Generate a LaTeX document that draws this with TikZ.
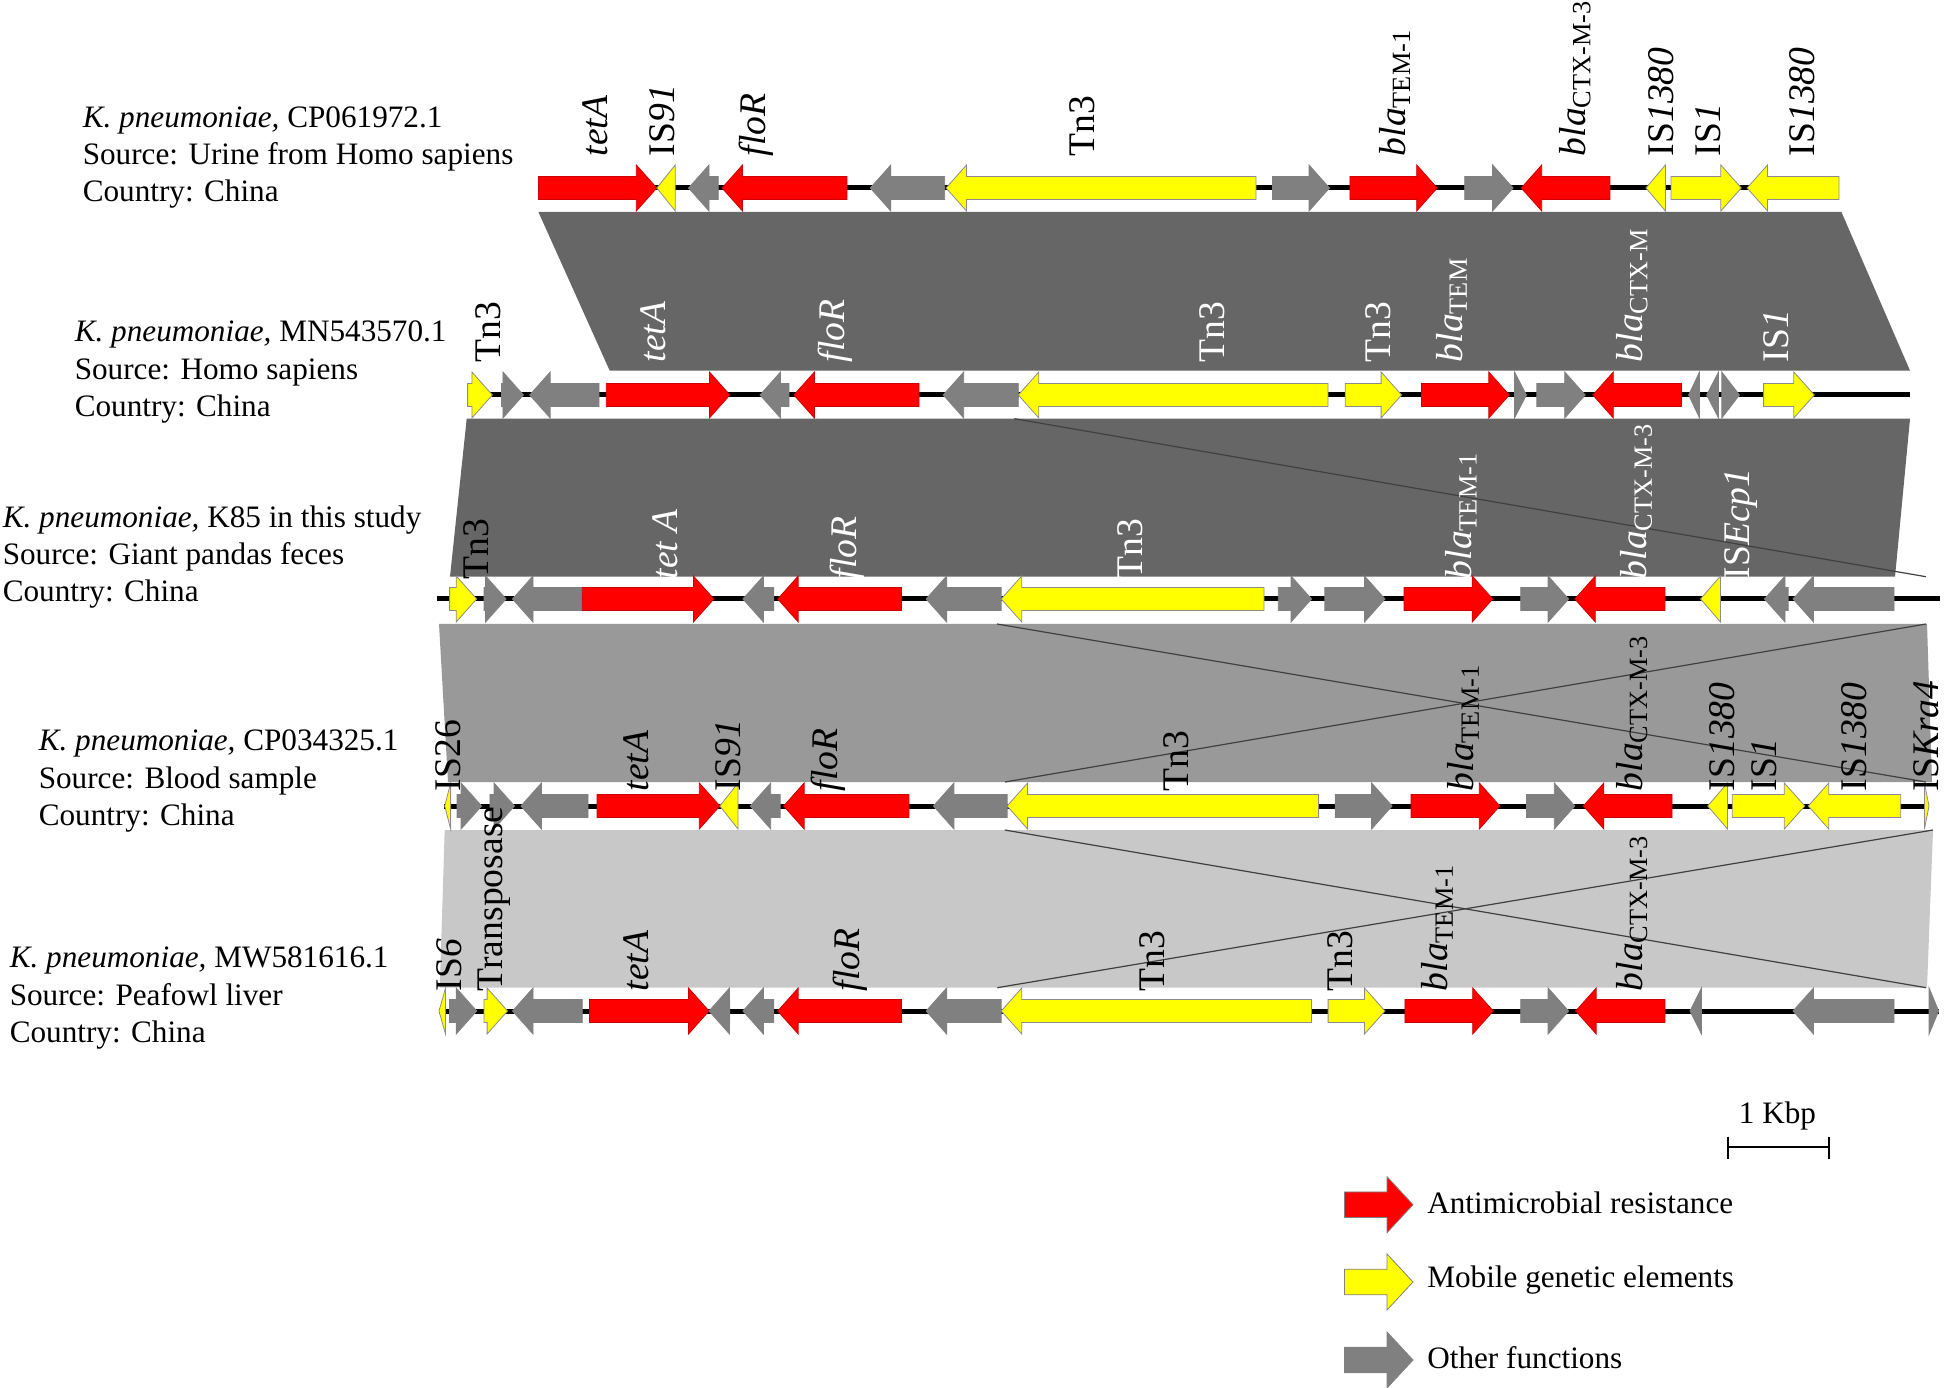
\documentclass[tikz,border=0pt]{standalone}
\usepackage{fontspec}
\setmainfont{Liberation Serif}

\definecolor{amrred}{HTML}{FF0000}
\definecolor{mgeyellow}{HTML}{FFFF00}
\definecolor{othgray}{HTML}{808080}
\definecolor{banddark}{HTML}{666666}
\definecolor{bandmid}{HTML}{999999}
\definecolor{bandlight}{HTML}{C8C8C8}

% gene arrow: #1 track y, #2 tail x, #3 tip x, #4 style
\newcommand{\genearrow}[4]{%
  \pgfmathsetmacro{\gdir}{sign(#3-#2)}%
  \pgfmathsetmacro{\ghead}{min(20.5,abs(#3-#2))}%
  \pgfmathsetmacro{\gbase}{#3-\gdir*\ghead}%
  \filldraw[#4] (#2,#1-11.5) -- (\gbase,#1-11.5) -- (\gbase,#1-23) -- (#3,#1)
    -- (\gbase,#1+23) -- (\gbase,#1+11.5) -- (#2,#1+11.5) -- cycle;}

\begin{document}
\begin{tikzpicture}[x=0.25pt, y=-0.25pt, line join=miter,
  track/.style={line width=1.25pt, black},
  amr/.style={fill=amrred, draw=amrred!80!black, line width=0.2pt},
  mge/.style={fill=mgeyellow, draw=black!45, line width=0.2pt},
  oth/.style={fill=othgray, draw=othgray, line width=0.2pt},
  inv/.style={draw=black!75, line width=0.3pt},
  lbl/.style={rotate=90, anchor=west, inner sep=0pt, font=\fontsize{9.4}{11}\selectfont},
  wlbl/.style={lbl, text=white},
  info/.style={align=left, anchor=west, inner sep=0pt, font=\fontsize{7.8}{9.3}\selectfont},
  legtext/.style={anchor=west, inner sep=0pt, font=\fontsize{7.8}{9.3}\selectfont}]
  \useasboundingbox (0,0) rectangle (1944,1388);

  % comparison bands
  \fill[banddark] (538.4,212) -- (1841.4,212) -- (1910,370.7) -- (609.7,370.7) -- cycle;
  \fill[banddark] (466.7,418.7) -- (1910,418.7) -- (1895,576.7) -- (450,576.7) -- cycle;
  \draw[inv] (1014.4,418.7) -- (1925.8,576.7);
  \fill[bandmid] (439,624) -- (1927,624) -- (1932,782) -- (448,782) -- cycle;
  \draw[inv] (997,624) -- (1926,782);
  \draw[inv] (1005,782) -- (1926,624);
  \fill[bandlight] (444.7,830) -- (1933,830) -- (1927,987.7) -- (439.8,987.7) -- cycle;
  \draw[inv] (1004.7,830) -- (1926,987.7);
  \draw[inv] (997.3,987.7) -- (1933,830);

  % strain labels
  \node[info] (s1) at (82,157.5) {\textit{K. pneumoniae,} CP061972.1\\Source: Urine from Homo sapiens\\Country: China};
  \node[info] (s2) at (74,372) {\textit{K. pneumoniae,} MN543570.1\\Source: Homo sapiens\\Country: China};
  \node[info] (s3) at (2,557) {\textit{K. pneumoniae,} K85 in this study\\Source: Giant pandas feces\\Country: China};
  \node[info] (s4) at (38,781) {\textit{K. pneumoniae,} CP034325.1\\Source: Blood sample\\Country: China};
  \node[info] (s5) at (9,998) {\textit{K. pneumoniae,} MW581616.1\\Source: Peafowl liver\\Country: China};

  % track 1
  \draw[track] (538,188) -- (1839,188);
  \genearrow{188}{538.4}{656.8}{amr}
  \genearrow{188}{675.2}{656.8}{mge}
  \genearrow{188}{718.3}{688.5}{oth}
  \genearrow{188}{846.9}{722}{amr}
  \genearrow{188}{944.7}{870.3}{oth}
  \genearrow{188}{1256}{946}{mge}
  \genearrow{188}{1272.6}{1329.5}{oth}
  \genearrow{188}{1349.9}{1437.2}{amr}
  \genearrow{188}{1464.7}{1513.1}{oth}
  \genearrow{188}{1609.9}{1521.2}{amr}
  \genearrow{188}{1665.4}{1645.9}{mge}
  \genearrow{188}{1671}{1741.3}{mge}
  \genearrow{188}{1839}{1747}{mge}

  % track 2
  \draw[track] (467.6,395) -- (1910,395);
  \genearrow{395}{467.6}{492.4}{mge}
  \genearrow{395}{501.6}{523.4}{oth}
  \genearrow{395}{599}{529.7}{oth}
  \genearrow{395}{606.3}{729.9}{amr}
  \genearrow{395}{789}{760}{oth}
  \genearrow{395}{919}{793.9}{amr}
  \genearrow{395}{1018.3}{943.2}{oth}
  \genearrow{395}{1328}{1018.3}{mge}
  \genearrow{395}{1345.2}{1401.6}{mge}
  \genearrow{395}{1421.5}{1509.3}{amr}
  \genearrow{395}{1514.5}{1526.4}{oth}
  \genearrow{395}{1536.8}{1585.2}{oth}
  \genearrow{395}{1681.5}{1592.8}{amr}
  \genearrow{395}{1699.5}{1688.6}{oth}
  \genearrow{395}{1718.5}{1706.6}{oth}
  \genearrow{395}{1721.8}{1739.4}{oth}
  \genearrow{395}{1763.6}{1814.3}{mge}

  % track 3
  \draw[track] (437.4,599) -- (1940,599);
  \genearrow{599}{449.6}{476.7}{mge}
  \genearrow{599}{484}{506.1}{oth}
  \genearrow{599}{582.3}{512.5}{oth}
  \genearrow{599}{582.3}{713.9}{amr}
  \genearrow{599}{773.8}{742.9}{oth}
  \genearrow{599}{901.5}{777.7}{amr}
  \genearrow{599}{1001.2}{926.1}{oth}
  \genearrow{599}{1264}{1001.2}{mge}
  \genearrow{599}{1278.3}{1311.5}{oth}
  \genearrow{599}{1324.8}{1385}{oth}
  \genearrow{599}{1404}{1492.7}{amr}
  \genearrow{599}{1520.7}{1568.6}{oth}
  \genearrow{599}{1664.9}{1574.8}{amr}
  \genearrow{599}{1720.4}{1700.5}{mge}
  \genearrow{599}{1788.2}{1764.5}{oth}
  \genearrow{599}{1894}{1793}{oth}

  % track 4
  \draw[track] (444,806) -- (1929,806);
  \genearrow{806}{450.6}{444.7}{mge}
  \genearrow{806}{457}{481.6}{oth}
  \genearrow{806}{489.9}{514.5}{oth}
  \genearrow{806}{588}{520.9}{oth}
  \genearrow{806}{597}{719.8}{amr}
  \genearrow{806}{738}{719.8}{mge}
  \genearrow{806}{780.2}{750.2}{oth}
  \genearrow{806}{908.9}{783.6}{amr}
  \genearrow{806}{1007.1}{933.4}{oth}
  \genearrow{806}{1318.6}{1007.1}{mge}
  \genearrow{806}{1335.2}{1392.1}{oth}
  \genearrow{806}{1411.1}{1499.8}{amr}
  \genearrow{806}{1526.4}{1574.8}{oth}
  \genearrow{806}{1672}{1583.3}{amr}
  \genearrow{806}{1727.5}{1707.6}{mge}
  \genearrow{806}{1732.3}{1804.8}{mge}
  \genearrow{806}{1900.7}{1808.2}{mge}
  \genearrow{806}{1924.4}{1929}{mge}

  % track 5
  \draw[track] (439,1011) -- (1938.6,1011);
  \genearrow{1011}{445.5}{439}{mge}
  \genearrow{1011}{449.6}{476.7}{oth}
  \genearrow{1011}{484}{507.6}{mge}
  \genearrow{1011}{582.3}{512.5}{oth}
  \genearrow{1011}{589.6}{709}{amr}
  \genearrow{1011}{729.6}{709}{oth}
  \genearrow{1011}{773.8}{742.9}{oth}
  \genearrow{1011}{901.5}{777.7}{amr}
  \genearrow{1011}{1001.2}{926.1}{oth}
  \genearrow{1011}{1311.5}{1001.2}{mge}
  \genearrow{1011}{1328.1}{1385}{mge}
  \genearrow{1011}{1404.9}{1493.2}{amr}
  \genearrow{1011}{1520.7}{1568.6}{oth}
  \genearrow{1011}{1664.9}{1575.7}{amr}
  \genearrow{1011}{1701.4}{1690}{oth}
  \genearrow{1011}{1894}{1793}{oth}
  \genearrow{1011}{1929.1}{1938.6}{oth}

  % gene labels, track 1
  \node[lbl] (r1tet) at (594.8,157) {\textit{tetA}};
  \node[lbl] (r1is91) at (662.3,157) {IS\textit{91}};
  \node[lbl] (r1flo) at (756.5,157) {\textit{floR}};
  \node[lbl] (r1tn) at (1082.5,157) {Tn3};
  \node[lbl] (r1tem) at (1394.5,157) {\textit{bla}\textsubscript{TEM-1}};
  \node[lbl] (r1ctx) at (1574.8,157) {\textit{bla}\textsubscript{CTX-M-3}};
  \node[lbl] (r1isa) at (1661,157) {IS\textit{1380}};
  \node[lbl] (r1is1) at (1708.5,157) {IS\textit{1}};
  \node[lbl] (r1isb) at (1802.5,157) {IS\textit{1380}};

  % gene labels, track 2
  \node[lbl] (r2tna) at (488.5,363) {Tn3};
  \node[wlbl] (r2tet) at (653.3,363) {\textit{tetA}};
  \node[wlbl] (r2flo) at (835,363) {\textit{floR}};
  \node[wlbl] (r2tnb) at (1212,363) {Tn3};
  \node[wlbl] (r2tnc) at (1378,363) {Tn3};
  \node[wlbl] (r2tem) at (1451.4,363) {\textit{bla}\textsubscript{TEM}};
  \node[wlbl] (r2ctx) at (1632,363) {\textit{bla}\textsubscript{CTX-M}};
  \node[wlbl] (r2is1) at (1776.4,363) {IS\textit{1}};

  % gene labels, track 3
  \node[lbl] (r3tna) at (476.7,580) {Tn3};
  \node[wlbl] (r3tet) at (664.8,580) {\textit{tet A}};
  \node[wlbl] (r3flo) at (847.5,580) {\textit{floR}};
  \node[wlbl] (r3tnb) at (1130,580) {Tn3};
  \node[wlbl] (r3tem) at (1461,580) {\textit{bla}\textsubscript{TEM-1}};
  \node[wlbl] (r3ctx) at (1636.4,580) {\textit{bla}\textsubscript{CTX-M-3}};
  \node[wlbl] (r3ecp) at (1740.8,580) {IS\textit{Ecp1}};

  % gene labels, track 4
  \node[lbl] (r4is26) at (448.2,792) {IS26};
  \node[lbl] (r4tet) at (636.3,792) {\textit{tetA}};
  \node[lbl] (r4is91) at (728.6,792) {IS\textit{91}};
  \node[lbl] (r4flo) at (827.8,792) {\textit{floR}};
  \node[lbl] (r4tn) at (1176.6,792) {Tn3};
  \node[lbl] (r4tem) at (1463.3,792) {\textit{bla}\textsubscript{TEM-1}};
  \node[lbl] (r4ctx) at (1631.7,792) {\textit{bla}\textsubscript{CTX-M-3}};
  \node[lbl] (r4isa) at (1721.8,792) {IS\textit{1380}};
  \node[lbl] (r4is1) at (1764.5,792) {IS\textit{1}};
  \node[lbl] (r4isb) at (1854.6,792) {IS\textit{1380}};
  \node[lbl] (r4kra) at (1925.8,792) {IS\textit{Kra4}};

  % gene labels, track 5
  \node[lbl] (r5is6) at (449.6,992) {IS\textit{6}};
  \node[lbl] (r5trp) at (493.9,992) {Transposase};
  \node[lbl] (r5tet) at (636.3,992) {\textit{tetA}};
  \node[lbl] (r5flo) at (850,992) {\textit{floR}};
  \node[lbl] (r5tna) at (1152,992) {Tn3};
  \node[lbl] (r5tnb) at (1340,992) {Tn3};
  \node[lbl] (r5tem) at (1437.2,992) {\textit{bla}\textsubscript{TEM-1}};
  \node[lbl] (r5ctx) at (1631.7,992) {\textit{bla}\textsubscript{CTX-M-3}};

  % scale bar
  \node[legtext, anchor=center] (kbp) at (1777.5,1116) {1 Kbp};
  \draw[line width=0.5pt] (1728.3,1146.7) -- (1828.5,1146.7);
  \draw[line width=0.5pt] (1728.3,1136.7) -- (1728.3,1159.3);
  \draw[line width=0.5pt] (1828.5,1136.7) -- (1828.5,1159.3);

  % legend
  \filldraw[amr, draw=gray] (1344.4,1191.9) -- (1387,1191.9) -- (1387,1176.7) -- (1413,1204.7)
    -- (1387,1232.7) -- (1387,1217.5) -- (1344.4,1217.5) -- cycle;
  \filldraw[mge, draw=gray] (1344.4,1269.2) -- (1387,1269.2) -- (1387,1254) -- (1413,1282)
    -- (1387,1310) -- (1387,1294.8) -- (1344.4,1294.8) -- cycle;
  \filldraw[oth] (1344.4,1347.2) -- (1387,1347.2) -- (1387,1332) -- (1413,1360)
    -- (1387,1388) -- (1387,1372.8) -- (1344.4,1372.8) -- cycle;
  \node[legtext] (legamr) at (1426.5,1203) {Antimicrobial resistance};
  \node[legtext] (legmge) at (1426.5,1280) {Mobile genetic elements};
  \node[legtext] (legoth) at (1426.5,1358) {Other functions};
\end{tikzpicture}
\end{document}
